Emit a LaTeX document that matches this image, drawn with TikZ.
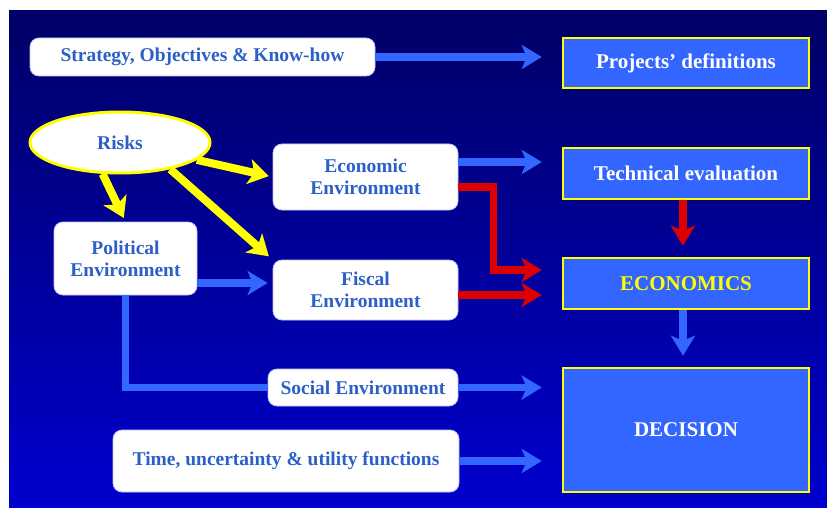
\documentclass[tikz,border=0pt]{standalone}
\usepackage{fontspec}
\setmainfont{Liberation Serif}
\usepackage{tikz}
\usetikzlibrary{shapes.geometric,arrows.meta,positioning,calc}

\definecolor{fondoA}{RGB}{0,0,102}
\definecolor{fondoB}{RGB}{0,0,206}
\definecolor{azul}{RGB}{51,102,255}
\definecolor{azultxt}{RGB}{45,95,200}
\definecolor{rojo}{RGB}{220,0,0}
\definecolor{amarillo}{RGB}{255,255,0}

\begin{document}
\begin{tikzpicture}[x=1pt,y=-1pt,
  every node/.style={font=\fontsize{19.5}{22}\selectfont\bfseries},
  wbox/.style={draw=blue!25,line width=0.8pt,fill=white,rounded corners=9pt,text=azultxt,align=center,inner sep=0pt},
  bbox/.style={draw=amarillo,line width=2.5pt,fill=azul,text=white,align=center,inner sep=0pt,
    font=\fontsize{21}{24}\selectfont\bfseries},
  barr/.style={draw=azul,line width=7.5pt,-{Stealth[length=20pt,width=24pt,inset=5pt]}},
  rarr/.style={draw=rojo,line width=7.5pt,-{Stealth[length=20pt,width=24pt,inset=5pt]}},
  yarr/.style={draw=amarillo,line width=8pt,-{Stealth[length=20pt,width=25pt,inset=5pt]}}]
\useasboundingbox (0,0) rectangle (827,508);
\shade[top color=fondoA,bottom color=fondoB] (9,11) rectangle (827,508);
% columna derecha
\node[bbox,minimum width=246pt,minimum height=50pt] (proj) at (686,63) {Projects’ definitions};
\node[bbox,minimum width=246pt,minimum height=51pt] (tech) at (686,173.5) {Technical evaluation};
\node[bbox,minimum width=246pt,minimum height=51pt,text=amarillo] (econs) at (686,283.5) {ECONOMICS};
\node[bbox,minimum width=246pt,minimum height=124pt] (dec) at (686,430) {DECISION};
% entradas
\node[wbox,minimum width=345pt,minimum height=38pt] (strat) at (202.5,57) {Strategy, Objectives \& Know-how};
\node[ellipse,draw=amarillo,line width=3pt,fill=white,text=azultxt,inner sep=0pt,
  minimum width=180pt,minimum height=61pt] (risks) at (120,142.5) {Risks};
\node[wbox,minimum width=185pt,minimum height=66pt] (econ) at (365.5,177) {Economic\\Environment};
\node[wbox,minimum width=143pt,minimum height=73pt] (pol) at (125.5,258.5) {Political\\Environment};
\node[wbox,minimum width=185pt,minimum height=60pt] (fisc) at (365.5,290) {Fiscal\\Environment};
\node[wbox,minimum width=190pt,minimum height=37pt] (social) at (363,387.5) {Social Environment};
\node[wbox,minimum width=346pt,minimum height=62pt] (time) at (286,461) {Time, uncertainty \& utility functions};
% flechas azules
\draw[barr,shorten >=20pt] (strat.east) -- (strat.east -| proj.west);
\draw[barr,shorten >=20pt] ([yshift=15pt]econ.east) -- ([yshift=15pt]econ.east -| tech.west);
\draw[barr,shorten >=20pt] (social.east) -- (social.east -| dec.west);
\draw[barr,shorten >=20pt] (time.east) -- (time.east -| dec.west);
\draw[barr,shorten >=11pt] ([xshift=-3pt]econs.south) -- ([xshift=-3pt]dec.north);
\draw[barr,shorten >=5pt] ([yshift=-24.5pt]pol.east) -- ([yshift=-24.5pt]pol.east -| fisc.west);
\draw[azul,line width=7.5pt] (pol.south) |- (social.west);
% flechas rojas
\draw[rarr,shorten >=20pt] ([yshift=-10pt]econ.east) -- ++(35,0) |- ([yshift=13.5pt]econs.west);
\draw[rarr,shorten >=20pt] ([yshift=-5pt]fisc.east) -- ([yshift=-5pt]fisc.east -| econs.west);
\draw[rarr,shorten >=11pt] ([xshift=-3pt]tech.south) -- ([xshift=-3pt]econs.north);
% riesgos
\draw[yarr,shorten >=4pt] (risks) -- (econ.west);
\draw[yarr,shorten >=4pt] (risks.241) -- (pol.north);
\draw[yarr,shorten >=5pt] (risks.-28) -- (fisc.north west);
\end{tikzpicture}
\end{document}
